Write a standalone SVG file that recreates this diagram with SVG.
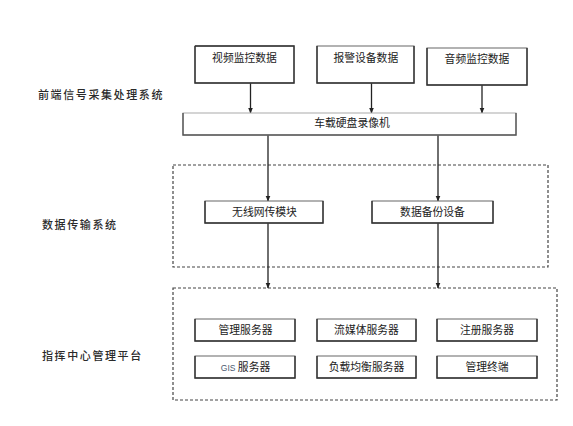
<svg xmlns="http://www.w3.org/2000/svg" width="573" height="426" viewBox="0 0 573 426">
<style>
.box{fill:#fff;stroke:#666;stroke-width:1}
.edge{fill:none;stroke:#333;stroke-width:1.4}
.dash{fill:none;stroke:#444;stroke-width:1.2;stroke-dasharray:3,2}
.t{font-family:"Noto Sans CJK SC","Liberation Sans",sans-serif;font-size:10.8px;fill:#222;text-anchor:middle}
.lab{font-family:"Noto Sans CJK SC","Liberation Sans",sans-serif;font-size:11px;font-weight:500;fill:#2a2a2a;letter-spacing:1.6px}
.gis{font-family:"Liberation Sans",sans-serif;font-size:8.5px;fill:#4a5a70}
.con{fill:none;stroke:#222;stroke-width:1.3;marker-end:url(#ah)}
</style>
<defs>
<marker id="ah" viewBox="0 0 6 6" refX="5.5" refY="3" markerWidth="6" markerHeight="6" markerUnits="userSpaceOnUse" orient="auto">
<path d="M0,0.5 L6,3 L0,5.5 Z" fill="#222"/>
</marker>
</defs>
<rect width="573" height="426" fill="#fff"/>

<g id="labels">
<text class="lab" x="38" y="99">前端信号采集处理系统</text>
<text class="lab" x="42" y="229">数据传输系统</text>
<text class="lab" x="42" y="360">指挥中心管理平台</text>
</g>

<g id="group-transmission"><rect class="dash" x="173" y="165" width="375" height="102"/></g>
<g id="group-command"><rect class="dash" x="173" y="288" width="384" height="112"/></g>

<g id="connectors">
<line class="con" x1="250.5" y1="83" x2="250.5" y2="113"/>
<line class="con" x1="371.5" y1="83" x2="371.5" y2="113"/>
<line class="con" x1="482" y1="85" x2="482" y2="113"/>
<line class="con" x1="268" y1="135" x2="268" y2="201"/>
<line class="con" x1="438" y1="135" x2="438" y2="201"/>
<line class="con" x1="268" y1="223" x2="268" y2="288"/>
<line class="con" x1="438" y1="223" x2="438" y2="288"/>
</g>

<g id="video">
<rect class="box" x="195" y="46" width="99" height="37"/><path class="edge" d="M195,46V83H294V46H195"/>
<text class="t" x="244.5" y="62">视频监控数据</text></g>
<g id="alarm">
<rect class="box" x="317" y="46" width="97" height="37"/><path class="edge" d="M317,46V83H414V46"/>
<text class="t" x="365.8" y="62">报警设备数据</text></g>
<g id="audio">
<rect class="box" x="427" y="48" width="100" height="37"/><path class="edge" d="M427,48V85H527V48"/>
<text class="t" x="477" y="63">音频监控数据</text></g>

<g id="dvr">
<rect class="box" x="183" y="113" width="333" height="22" style="stroke:#aaa"/><path class="edge" d="M183,113V135H516V113" style="stroke:#555"/>
<text class="t" x="352" y="127">车载硬盘录像机</text></g>

<g id="wireless">
<rect class="box" x="205" y="201" width="118" height="22"/><path class="edge" d="M205,201V223H323V201"/>
<text class="t" x="264.5" y="216">无线网传模块</text></g>
<g id="backup">
<rect class="box" x="372" y="201" width="121" height="22"/><path class="edge" d="M372,201V223H493V201"/>
<text class="t" x="432.5" y="216">数据备份设备</text></g>

<g id="mgmt-server">
<rect class="box" x="195" y="319" width="100" height="22"/><path class="edge" d="M195,319V341H295V319"/>
<text class="t" x="245.5" y="334">管理服务器</text></g>
<g id="media-server">
<rect class="box" x="317" y="319" width="99" height="22"/><path class="edge" d="M317,319V341H416V319"/>
<text class="t" x="366.5" y="334">流媒体服务器</text></g>
<g id="reg-server">
<rect class="box" x="437" y="319" width="100" height="22"/><path class="edge" d="M437,319V341H537V319"/>
<text class="t" x="487" y="334">注册服务器</text></g>
<g id="gis-server">
<rect class="box" x="195" y="356" width="100" height="22"/><path class="edge" d="M195,356V378H295V356"/>
<text class="t" x="245.5" y="371"><tspan class="gis">GIS</tspan> 服务器</text></g>
<g id="lb-server">
<rect class="box" x="317" y="356" width="99" height="22"/><path class="edge" d="M317,356V378H416V356"/>
<text class="t" x="366.5" y="371">负载均衡服务器</text></g>
<g id="mgmt-terminal">
<rect class="box" x="437" y="356" width="100" height="22"/><path class="edge" d="M437,356V378H537V356"/>
<text class="t" x="487" y="371">管理终端</text></g>
</svg>
